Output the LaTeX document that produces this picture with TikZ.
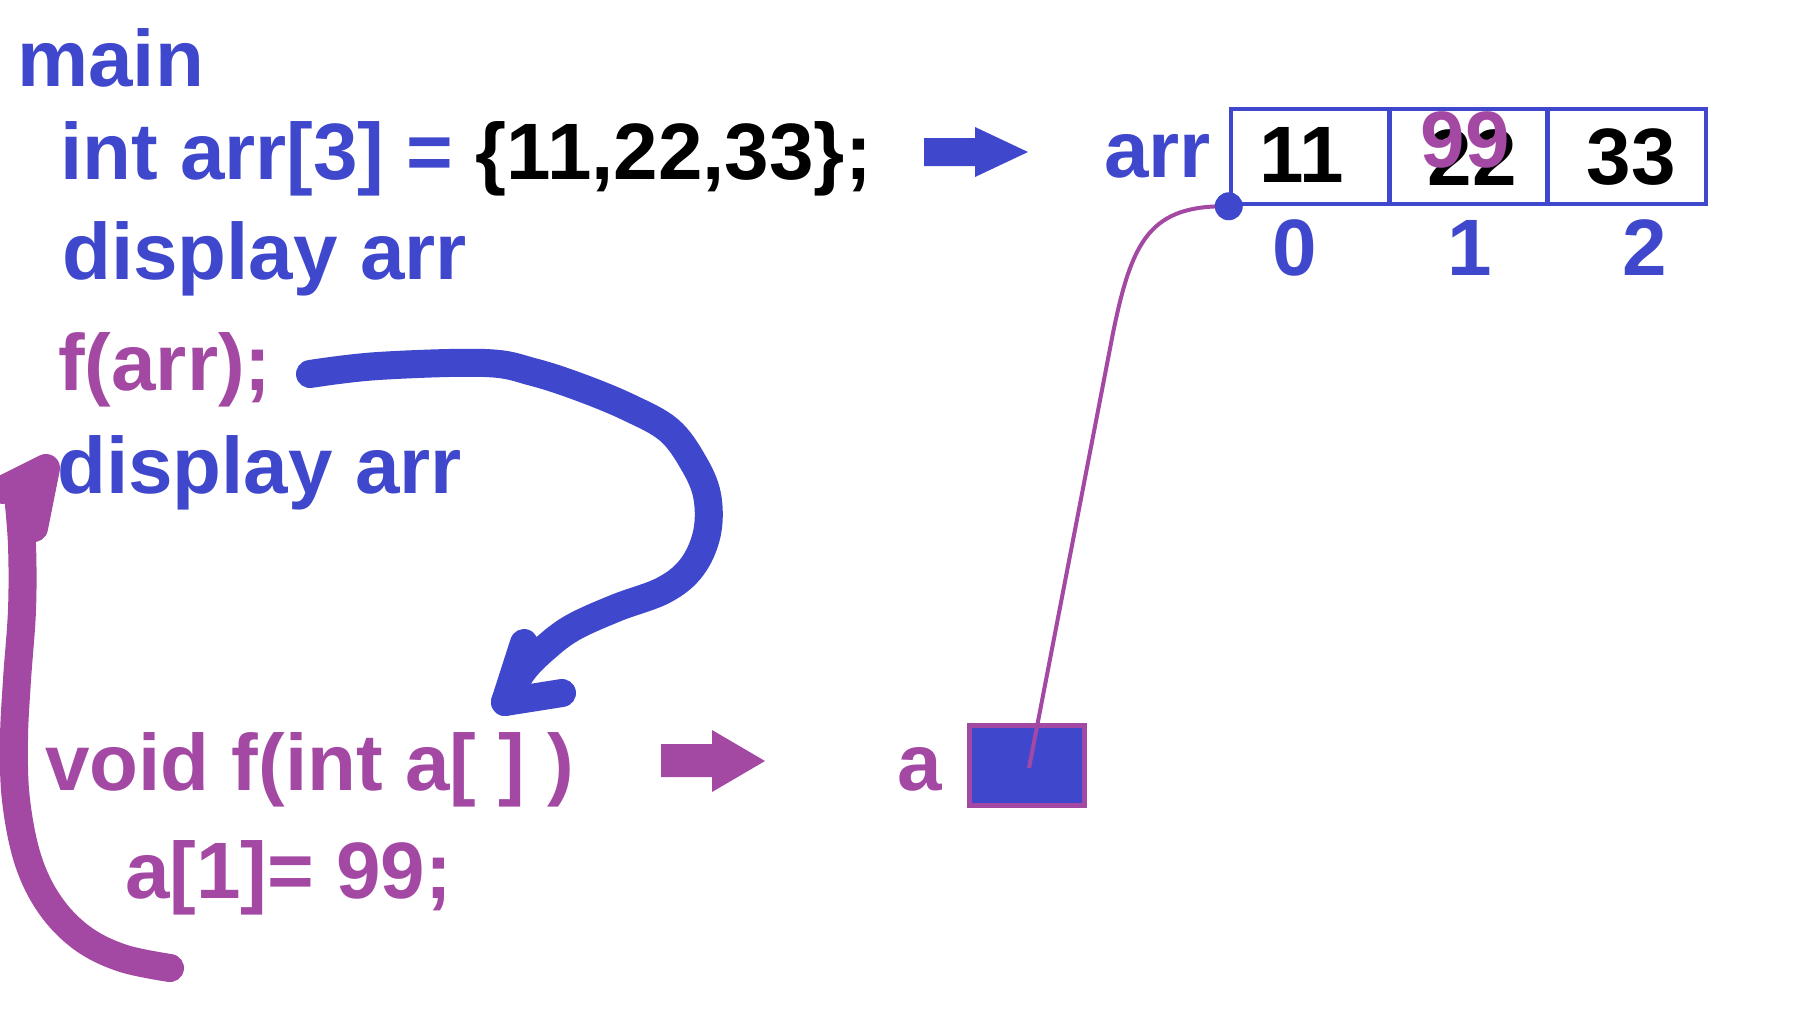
\documentclass[tikz,border=0pt]{standalone}
\usepackage{fontspec}
\setmainfont{Liberation Sans}
\definecolor{pblue}{HTML}{3F48CC}
\definecolor{ppurple}{HTML}{A349A4}
\begin{document}
\begin{tikzpicture}[x=1pt,y=-1pt,
  code/.style={font=\fontsize{80}{96}\selectfont\bfseries, inner sep=0pt, anchor=base west},
  num/.style={font=\fontsize{80}{96}\selectfont\bfseries, inner sep=0pt, anchor=base},
  cell/.style={draw=pblue, line width=4.5pt, minimum width=158.3pt, minimum height=95pt, inner sep=0pt},
  stroke/.style={line width=28pt, line cap=round, line join=round},
  blockarrow/.style={line width=1pt}]
\useasboundingbox[fill=white] (0,0) rectangle (1794,1034);

% code lines
\node[code, text=pblue] (main) at (17,86) {main};
\node[code] (decl) at (60,179) {\textcolor{pblue}{int arr[3] = }\textcolor{black}{\{11,22,33\};}};
\node[code, text=pblue] (disp1) at (62,279) {display arr};
\node[code, text=ppurple] (call) at (58,390) {f(arr);};
\node[code, text=pblue] (disp2) at (57,493) {display arr};
\node[code, text=ppurple] (func) at (45,790) {void f(int a[ ] )};
\node[code, text=ppurple] (assign) at (125,898) {a[1]= 99;};

% block arrows
\fill[pblue] (924,138) -- (975,138) -- (975,127) -- (1028,152) -- (975,177) -- (975,166) -- (924,166) -- cycle;
\fill[ppurple] (661,744) -- (712,744) -- (712,730) -- (765,761) -- (712,792) -- (712,777) -- (661,777) -- cycle;

% labels
\node[code, text=pblue] (arrlbl) at (1104,177) {arr};
\node[code, text=ppurple] (albl) at (897,790) {a};

% pointer box a
\node[draw=ppurple, fill=pblue, line width=5pt, minimum width=115pt, minimum height=80pt, inner sep=0pt] (abox) at (1027,765.5) {};
\coordinate (aend) at (1029,768);

% array cells
\node[cell] (c0) at (1310.15,156.5) {};
\node[cell] (c1) at (1468.45,156.5) {};
\node[cell] (c2) at (1626.75,156.5) {};
\node[num] (v0) at (1302,182) {11};
\node[num] (v1) at (1472,185) {22};
\node[num, text=ppurple] (v1new) at (1465,167) {99};
\node[num] (v2) at (1631,184) {33};
\node[num, text=pblue] (i0) at (1295,275) {0};
\node[num, text=pblue] (i1) at (1470,275) {1};
\node[num, text=pblue] (i2) at (1645,275) {2};

% pointer curve
\draw[ppurple, line width=4pt] (c0.south west) .. controls (1150,205) and (1132,240) .. (1113,333) -- (aend);
\fill[pblue] (c0.south west) circle (14pt);

% hand-drawn blue call arrow
\coordinate (bstart) at (310,374);
\coordinate (btip) at (505,702);
\draw[pblue, stroke] plot[smooth, tension=0.6] coordinates {(310,374) (378,366) (485,363) (533,372) (582,388) (630,408) (669,430) (693,462) (707,495) (707,533) (692,567) (664,590) (616,608) (572,628) (543,650) (522,672) (505,702)};
\draw[pblue, stroke] (524,643) -- (btip) -- (562,693);

% hand-drawn purple return arrow
\coordinate (pstart) at (170,968);
\coordinate (ptip) at (46,468);
\draw[ppurple, stroke] plot[smooth, tension=0.6] coordinates {(170,968) (122,958) (82,938) (50,905) (28,860) (16,800) (14,740) (17,680) (22,610) (22,545) (18,495)};
\draw[ppurple, stroke] (2,490) -- (ptip) -- (34,528);
\end{tikzpicture}
\end{document}
